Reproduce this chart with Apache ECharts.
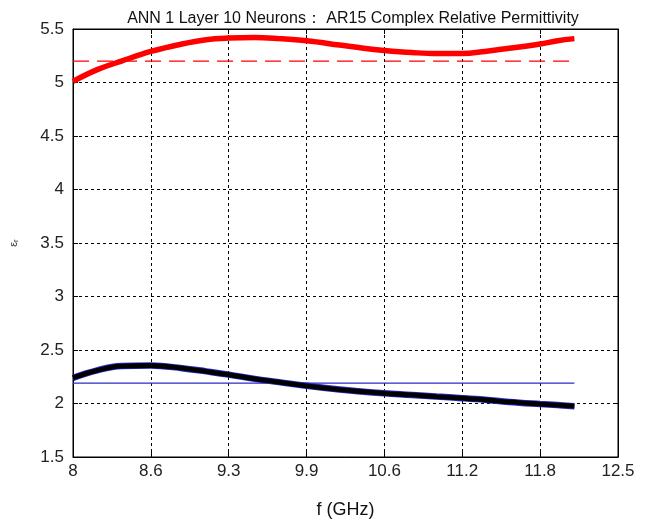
<!DOCTYPE html>
<html>
<head>
<meta charset="utf-8">
<script src="https://cdn.jsdelivr.net/npm/echarts@6/dist/echarts.min.js"></script>
<style>html,body{margin:0;padding:0;background:#fff}#c{width:645px;height:523px}</style>
</head>
<body>
<div id="c"></div>
<script>
var freq = [8.0, 8.2, 8.4, 8.643, 8.9, 9.1, 9.286, 9.5, 9.7, 9.929, 10.2, 10.4, 10.571, 10.8, 11.0, 11.214, 11.4, 11.6, 11.857, 12.0, 12.14];
var epsReal = [5.01, 5.12, 5.20, 5.29, 5.36, 5.40, 5.415, 5.42, 5.41, 5.39, 5.35, 5.32, 5.30, 5.28, 5.27, 5.27, 5.29, 5.32, 5.36, 5.39, 5.41];
var epsImag = [2.24, 2.31, 2.35, 2.355, 2.33, 2.30, 2.27, 2.23, 2.20, 2.165, 2.13, 2.11, 2.095, 2.08, 2.065, 2.05, 2.035, 2.015, 1.995, 1.985, 1.975];
var refReal = 5.2;
var refImag = 2.19;
var xTickLabels = ['8', '8.6', '9.3', '9.9', '10.6', '11.2', '11.8', '12.5'];
var yTickLabels = ['1.5', '2', '2.5', '3', '3.5', '4', '4.5', '5', '5.5'];

var xMin = 8, xMax = 12.5, xStep = 4.5 / 7;
function pairs(xs, ys) { return xs.map(function (x, i) { return [x, ys[i]]; }); }
function flat(xs, v) { return [[xs[0], v], [xs[xs.length - 1], v]]; }

var font = 'Liberation Sans, Arial, sans-serif';
var chart = echarts.init(document.getElementById('c'), null, {renderer: 'canvas'});
chart.setOption({
  animation: false,
  backgroundColor: '#fff',
  title: {
    text: 'ANN 1 Layer 10 Neurons： AR15 Complex Relative Permittivity',
    left: 348, top: 6, textAlign: 'center',
    textStyle: {fontFamily: font, fontSize: 16, fontWeight: 'normal', color: '#111'}
  },
  grid: {left: 73, right: 27, top: 29, bottom: 66, containLabel: false, outerBoundsMode: 'none', show: true, borderColor: '#000', borderWidth: 1, backgroundColor: '#fff'},
  xAxis: [{
    type: 'value', min: xMin, max: xMax, interval: xStep,
    name: 'f (GHz)', nameLocation: 'middle', nameGap: 44,
    nameTextStyle: {fontFamily: font, fontSize: 18, color: '#111'},
    axisLine: {show: true, lineStyle: {color: '#000', width: 1}},
    axisTick: {show: true, inside: true, length: 5, lineStyle: {color: '#000'}},
    axisLabel: {fontFamily: font, fontSize: 17, color: '#222', margin: 6, showMinLabel: true, showMaxLabel: true,
      formatter: function (v) { var i = Math.round((v - xMin) / xStep); return xTickLabels[i] || ''; }},
    splitLine: {show: true, lineStyle: {color: '#000', type: [3, 3], width: 1}}
  }, {
    type: 'value', position: 'top', min: xMin, max: xMax, interval: xStep,
    axisLine: {show: true, lineStyle: {color: '#000'}},
    axisTick: {show: true, inside: true, length: 5, lineStyle: {color: '#000'}},
    axisLabel: {show: false}, splitLine: {show: false}
  }],
  yAxis: [{
    type: 'value', min: 1.5, max: 5.5, interval: 0.5,
    name: '{e|ε}{s|r}', nameLocation: 'middle', nameGap: 53, nameRotate: 90,
    nameTextStyle: {rich: {e: {fontFamily: font, fontSize: 11, color: '#333'}, s: {fontFamily: font, fontSize: 8, color: '#333', verticalAlign: 'bottom', padding: [4, 0, 0, 0]}}},
    axisLine: {show: true, lineStyle: {color: '#000', width: 1}},
    axisTick: {show: true, inside: true, length: 5, lineStyle: {color: '#000'}},
    axisLabel: {fontFamily: font, fontSize: 17, color: '#222', margin: 9,
      formatter: function (v) { var i = Math.round((v - 1.5) / 0.5); return yTickLabels[i] || ''; }},
    splitLine: {show: true, lineStyle: {color: '#000', type: [3, 3], width: 1}}
  }, {
    type: 'value', position: 'right', min: 1.5, max: 5.5, interval: 0.5,
    axisLine: {show: true, lineStyle: {color: '#000'}},
    axisTick: {show: true, inside: true, length: 5, lineStyle: {color: '#000'}},
    axisLabel: {show: false}, splitLine: {show: false}
  }],
  series: [
    {type: 'line', data: flat(freq, refReal), symbol: 'none', lineStyle: {color: '#ff0000', width: 1.3, type: [16, 8]}, z: 3},
    {type: 'line', data: flat(freq, refImag), symbol: 'none', lineStyle: {color: '#2a2ac8', width: 1.3}, z: 3},
    {type: 'line', data: pairs(freq, epsReal), smooth: 0.4, symbol: 'none', lineStyle: {color: '#ff0000', width: 5.5}, z: 4},
    {type: 'line', data: pairs(freq, epsImag), smooth: 0.4, symbol: 'none', lineStyle: {color: '#2a2ac8', width: 6.5}, z: 4},
    {type: 'line', data: pairs(freq, epsImag), smooth: 0.4, symbol: 'none', lineStyle: {color: '#000', width: 4.8}, z: 5}
  ]
});
</script>
</body>
</html>
